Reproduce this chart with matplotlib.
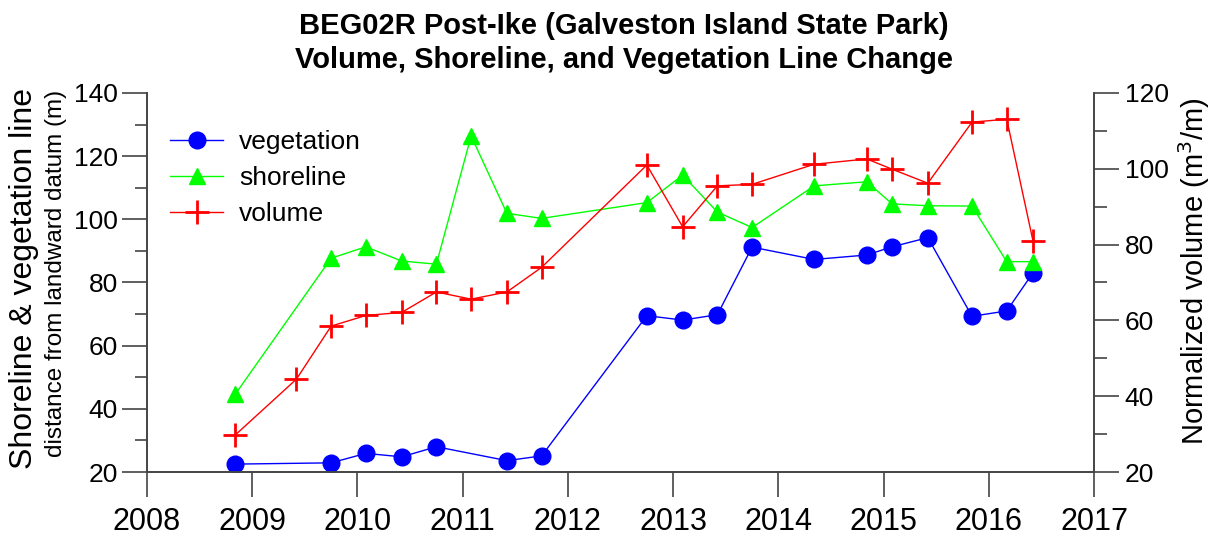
import matplotlib
matplotlib.use("Agg")
import matplotlib.pyplot as plt
from matplotlib.ticker import MultipleLocator

plt.rcParams['font.family'] = ['Liberation Sans', 'DejaVu Sans']

# survey dates (decimal year) and values
veg_dates = [2008.84, 2009.75, 2010.08, 2010.42, 2010.75, 2011.42, 2011.75, 2012.75, 2013.09,
             2013.42, 2013.75, 2014.34, 2014.84, 2015.08, 2015.42, 2015.84, 2016.17, 2016.42]
veg = [22.5, 22.9, 25.9, 24.8, 28.0, 23.6, 25.1, 69.5, 68.1,
       69.8, 91.2, 87.3, 88.7, 91.3, 94.2, 69.3, 71.0, 83.1]

shore_dates = [2008.84, 2009.75, 2010.08, 2010.42, 2010.75, 2011.08, 2011.42, 2011.75, 2012.75,
               2013.09, 2013.42, 2013.75, 2014.34, 2014.84, 2015.08, 2015.42, 2015.84, 2016.17, 2016.42]
shore = [44.7, 87.7, 91.3, 86.8, 85.8, 126.4, 101.9, 100.3, 105.3,
         114.0, 102.3, 97.4, 110.6, 111.9, 104.9, 104.3, 104.2, 86.6, 86.6]

vol_dates = [2008.84, 2009.42, 2009.75, 2010.08, 2010.42, 2010.75, 2011.08, 2011.42, 2011.75, 2012.75,
             2013.09, 2013.42, 2013.75, 2014.34, 2014.84, 2015.08, 2015.42, 2015.84, 2016.17, 2016.42]
vol = [29.8, 44.5, 58.5, 61.3, 62.1, 67.5, 65.6, 67.5, 74.0, 101.0,
       84.7, 95.5, 95.9, 101.2, 102.6, 99.9, 96.2, 112.3, 113.1, 80.9]

fig = plt.figure(figsize=(12.12, 5.36), dpi=100)
ax = fig.add_axes([0.1213, 0.1194, 0.7814, 0.7071])
ax2 = ax.twinx()

l1, = ax.plot(veg_dates, veg, '-o', color='#0000ff', lw=1, ms=12, label='vegetation')
l2, = ax.plot(shore_dates, shore, '-^', color='#00ff00', lw=1, ms=12, label='shoreline')
l3, = ax2.plot(vol_dates, vol, '-+', color='#ff0000', lw=1, ms=17, mew=2, label='volume')

spine_col = '#444444'
for a in (ax, ax2):
    a.spines['top'].set_visible(False)
    for s in ('left', 'right', 'bottom'):
        a.spines[s].set_color(spine_col)
        a.spines[s].set_linewidth(1.2)

ax.set_xlim(2008, 2017)
ax.set_xticks(range(2008, 2018))
ax.set_ylim(20, 140)
ax.yaxis.set_major_locator(MultipleLocator(20))
ax.yaxis.set_minor_locator(MultipleLocator(10))
ax2.set_ylim(20, 120)
ax2.yaxis.set_major_locator(MultipleLocator(20))
ax2.yaxis.set_minor_locator(MultipleLocator(10))

ax.tick_params(axis='x', direction='out', length=18, width=1.2, color=spine_col,
               labelsize=22, pad=7)
ax.tick_params(axis='y', which='major', direction='out', length=18, width=1.2,
               color=spine_col, labelsize=19, pad=3)
ax.tick_params(axis='y', which='minor', direction='out', length=9, width=1.2, color=spine_col)
ax2.tick_params(axis='y', which='major', direction='out', length=18, width=1.2,
                color=spine_col, labelsize=19, pad=4)
ax2.tick_params(axis='y', which='minor', direction='out', length=9, width=1.2, color=spine_col)

fig.text(0.020, 0.48, 'Shoreline & vegetation line', rotation=90, fontsize=23,
         ha='center', va='center')
fig.text(0.046, 0.49, 'distance from landward datum (m)', rotation=90, fontsize=17.5,
         ha='center', va='center')
fig.text(0.985, 0.495, 'Normalized volume (m$^3$/m)', rotation=90, fontsize=21,
         ha='center', va='center')

fig.text(0.515, 0.92, 'BEG02R Post-Ike (Galveston Island State Park)\n'
         'Volume, Shoreline, and Vegetation Line Change',
         ha='center', va='center', fontsize=21, fontweight='bold', linespacing=1.3)

leg = ax.legend(handles=[l1, l2, l3], loc='upper left', bbox_to_anchor=(0.005, 0.95),
                frameon=False, fontsize=19, handlelength=2.0, handletextpad=0.6,
                labelspacing=0.45, borderaxespad=0.3)

fig.savefig('out.png', dpi=100)
